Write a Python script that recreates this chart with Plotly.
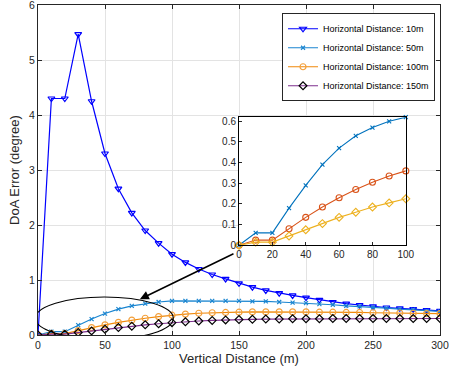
import plotly.graph_objects as go

# ---------------- data ----------------
vertical_distance = [0, 10, 20, 30, 40, 50, 60, 70, 80, 90, 100, 110, 120, 130, 140, 150,
                     160, 170, 180, 190, 200, 210, 220, 230, 240, 250, 260, 270, 280, 290, 300]

err_10m = [0, 4.30, 4.30, 5.47, 4.25, 3.30, 2.66, 2.22, 1.90, 1.67, 1.47, 1.32, 1.20, 1.10, 1.02, 0.94,
           0.87, 0.81, 0.76, 0.72, 0.68, 0.64, 0.60, 0.57, 0.545, 0.52, 0.50, 0.485, 0.47, 0.455, 0.44]
err_50m = [0, 0.06, 0.06, 0.18, 0.29, 0.39, 0.47, 0.53, 0.57, 0.60, 0.62, 0.62, 0.62, 0.62, 0.62, 0.62,
           0.61, 0.61, 0.60, 0.59, 0.58, 0.56, 0.55, 0.53, 0.52, 0.50, 0.49, 0.47, 0.46, 0.44, 0.43]
err_100m = [0, 0.025, 0.025, 0.08, 0.135, 0.185, 0.23, 0.27, 0.305, 0.335, 0.36, 0.38, 0.395, 0.405, 0.41, 0.415,
            0.42, 0.42, 0.42, 0.42, 0.42, 0.415, 0.415, 0.41, 0.41, 0.405, 0.40, 0.40, 0.395, 0.39, 0.39]
err_150m = [0, 0.015, 0.015, 0.045, 0.075, 0.105, 0.135, 0.16, 0.185, 0.205, 0.225, 0.24, 0.255, 0.265, 0.275, 0.28,
            0.285, 0.29, 0.29, 0.295, 0.295, 0.295, 0.30, 0.30, 0.30, 0.30, 0.30, 0.30, 0.30, 0.30, 0.30]

series_names = ["Horizontal Distance: 10m", "Horizontal Distance: 50m",
                "Horizontal Distance: 100m", "Horizontal Distance: 150m"]

inset_max_x = 100
main_x_ticks = [0, 50, 100, 150, 200, 250, 300]
main_y_ticks = [0, 1, 2, 3, 4, 5, 6]
inset_x_ticks = [0, 20, 40, 60, 80, 100]
inset_y_ticks = [0, 0.1, 0.2, 0.3, 0.4, 0.5, 0.6]

# ---------------- figure ----------------
FONT = "Liberation Sans, Arial, Helvetica, sans-serif"
AX = "#262626"

fig = go.Figure()

fig.add_trace(go.Scatter(x=vertical_distance, y=err_10m, name=series_names[0], mode="lines+markers",
                         line=dict(color="#0000FF", width=1.2),
                         marker=dict(symbol="triangle-down-open", size=6, color="#0000FF",
                                     line=dict(width=1.2, color="#0000FF"))))
fig.add_trace(go.Scatter(x=vertical_distance, y=err_50m, name=series_names[1], mode="lines+markers",
                         line=dict(color="#1A85D0", width=1.2),
                         marker=dict(symbol="x-thin-open", size=4, color="#1A85D0",
                                     line=dict(width=1.2, color="#1A85D0"))))
fig.add_trace(go.Scatter(x=vertical_distance, y=err_100m, name=series_names[2], mode="lines+markers",
                         line=dict(color="#F0890A", width=1.2),
                         marker=dict(symbol="circle-open", size=6, color="#F3A03C",
                                     line=dict(width=1.2, color="#F3A03C"))))
fig.add_trace(go.Scatter(x=vertical_distance, y=err_150m, name=series_names[3], mode="lines+markers",
                         line=dict(color="#7E2F8E", width=1.2),
                         marker=dict(symbol="diamond-open", size=6, color="#000000",
                                     line=dict(width=1.2, color="#000000"))))

# inset
n_in = vertical_distance.index(inset_max_x) + 1
inset_specs = [(err_50m, "#0072BD", "x-thin-open", 4),
               (err_100m, "#D95319", "circle-open", 6),
               (err_150m, "#EDB120", "diamond-open", 6)]
for ys, col, sym, sz in inset_specs:
    fig.add_trace(go.Scatter(x=vertical_distance[:n_in], y=ys[:n_in], mode="lines+markers",
                             xaxis="x2", yaxis="y2", showlegend=False, cliponaxis=False,
                             line=dict(color=col, width=1.1),
                             marker=dict(symbol=sym, size=sz, color=col, line=dict(width=1.1, color=col))))

# ellipse and arrow
fig.add_shape(type="circle", xref="x", yref="y", x0=-2, x1=101, y0=-0.08, y1=0.69,
              line=dict(color="black", width=1.1), layer="above")
fig.add_annotation(x=76, y=0.65, ax=147, ay=1.49, xref="x", yref="y", axref="x", ayref="y",
                   showarrow=True, arrowhead=2, arrowsize=1.2, arrowwidth=1.5, arrowcolor="black", text="")

axis_common = dict(zeroline=False, showline=True, linecolor=AX, linewidth=1, mirror="ticks",
                   ticks="inside", ticklen=4, tickcolor=AX, automargin=False,
                   ticklabeloverflow="allow", showgrid=True, gridcolor="#E3E3E3")
inset_common = dict(showgrid=False, zeroline=False, showline=True, linecolor="#000000", mirror=True,
                    ticks="inside", ticklen=3, tickcolor=AX, tickfont=dict(size=10),
                    automargin=False, ticklabeloverflow="allow")

fig.update_layout(
    width=449, height=375,
    margin=dict(l=38, r=9, t=5, b=40),
    paper_bgcolor="white", plot_bgcolor="white",
    font=dict(family=FONT, size=10.5, color=AX),
    showlegend=True,
    legend=dict(x=0.607, y=0.975, xanchor="left", yanchor="top",
                bgcolor="white", bordercolor=AX, borderwidth=1,
                font=dict(size=9, color="#000000"), tracegroupgap=0,
                itemwidth=30),
    xaxis=dict(range=[0, 300], tickvals=main_x_ticks,
               title=dict(text="Vertical Distance (m)", standoff=0), **axis_common),
    yaxis=dict(range=[0, 6], tickvals=main_y_ticks,
               title=dict(text="DoA Error (degree)", standoff=6), **axis_common),
    xaxis2=dict(domain=[0.5, 0.915], anchor="y2", range=[0, 100], tickvals=inset_x_ticks, **inset_common),
    yaxis2=dict(domain=[0.272, 0.66], anchor="x2", range=[0, 0.62], tickvals=inset_y_ticks, **inset_common),
)

fig.write_html("out.html", config={"displayModeBar": False},
               post_script="document.body.style.margin='0';document.body.style.overflow='hidden';")
